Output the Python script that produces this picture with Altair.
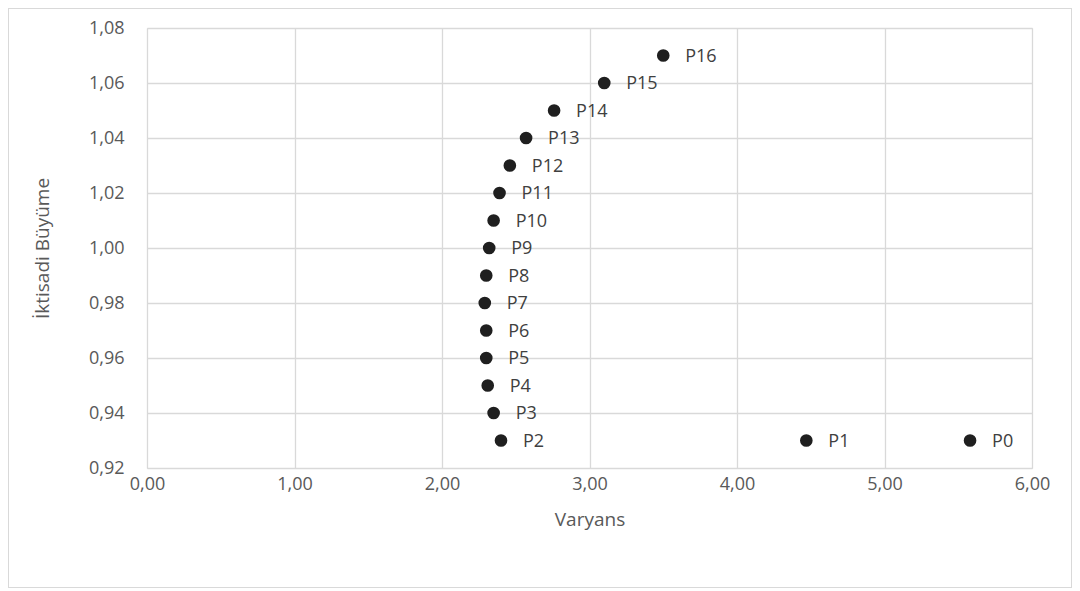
import altair as alt
import pandas as pd

labels = ["P0", "P1", "P2", "P3", "P4", "P5", "P6", "P7", "P8",
          "P9", "P10", "P11", "P12", "P13", "P14", "P15", "P16"]
varyans = [5.58, 4.47, 2.40, 2.35, 2.31, 2.30, 2.30, 2.29, 2.30,
           2.32, 2.35, 2.39, 2.46, 2.57, 2.76, 3.10, 3.50]
buyume = [0.93, 0.93, 0.93, 0.94, 0.95, 0.96, 0.97, 0.98, 0.99,
          1.00, 1.01, 1.02, 1.03, 1.04, 1.05, 1.06, 1.07]

df = pd.DataFrame({"label": labels, "Varyans": varyans, "Buyume": buyume})

W, H = 885, 440
PL, PT, PR, PB = 139, 20, 40, 120
FONT = "Open Sans"

x = alt.X("Varyans:Q", title="Varyans",
          scale=alt.Scale(domain=[0, 6], nice=False),
          axis=alt.Axis(values=[0, 1, 2, 3, 4, 5, 6],
                        labelExpr="replace(format(datum.value, '.2f'), '.', ',')",
                        tickSize=0, labelPadding=7, titlePadding=17,
                        labelFlush=False, domain=False))
y = alt.Y("Buyume:Q", title="İktisadi Büyüme",
          scale=alt.Scale(domain=[0.92, 1.08], nice=False, zero=False),
          axis=alt.Axis(values=[0.92, 0.94, 0.96, 0.98, 1.00, 1.02, 1.04, 1.06, 1.08],
                        labelExpr="replace(format(datum.value, '.2f'), '.', ',')",
                        tickSize=0, labelPadding=23, titlePadding=36,
                        labelFlush=False, domain=False))

border = alt.Chart(df).mark_rect(fill=None, stroke="#d9d9d9", strokeWidth=1, clip=False).encode(
    x=alt.value(-PL + 0.5), x2=alt.value(W + PR - 0.5),
    y=alt.value(-PT + 0.5), y2=alt.value(H + PB - 0.5))

points = alt.Chart(df).mark_circle(size=160, color="#1f1f1f", opacity=1).encode(x=x, y=y)
text = alt.Chart(df).mark_text(align="left", baseline="middle", dx=22, dy=1,
                               font=FONT, fontSize=18, color="#404040").encode(
    x="Varyans:Q", y="Buyume:Q", text="label:N")

chart = alt.layer(border, points, text).properties(
    width=W, height=H,
    background="white",
    autosize=alt.AutoSizeParams(type="none"),
    padding={"left": PL, "top": PT, "right": PR, "bottom": PB},
).configure_view(stroke="#d9d9d9").configure_axis(
    gridColor="#d9d9d9", gridWidth=1.3,
    labelFont=FONT, labelFontSize=18, labelColor="#595959",
    titleFont=FONT, titleFontSize=19, titleColor="#595959", titleFontWeight="normal",
)

chart.save("out.html", embed_options={"renderer": "svg", "actions": False})
